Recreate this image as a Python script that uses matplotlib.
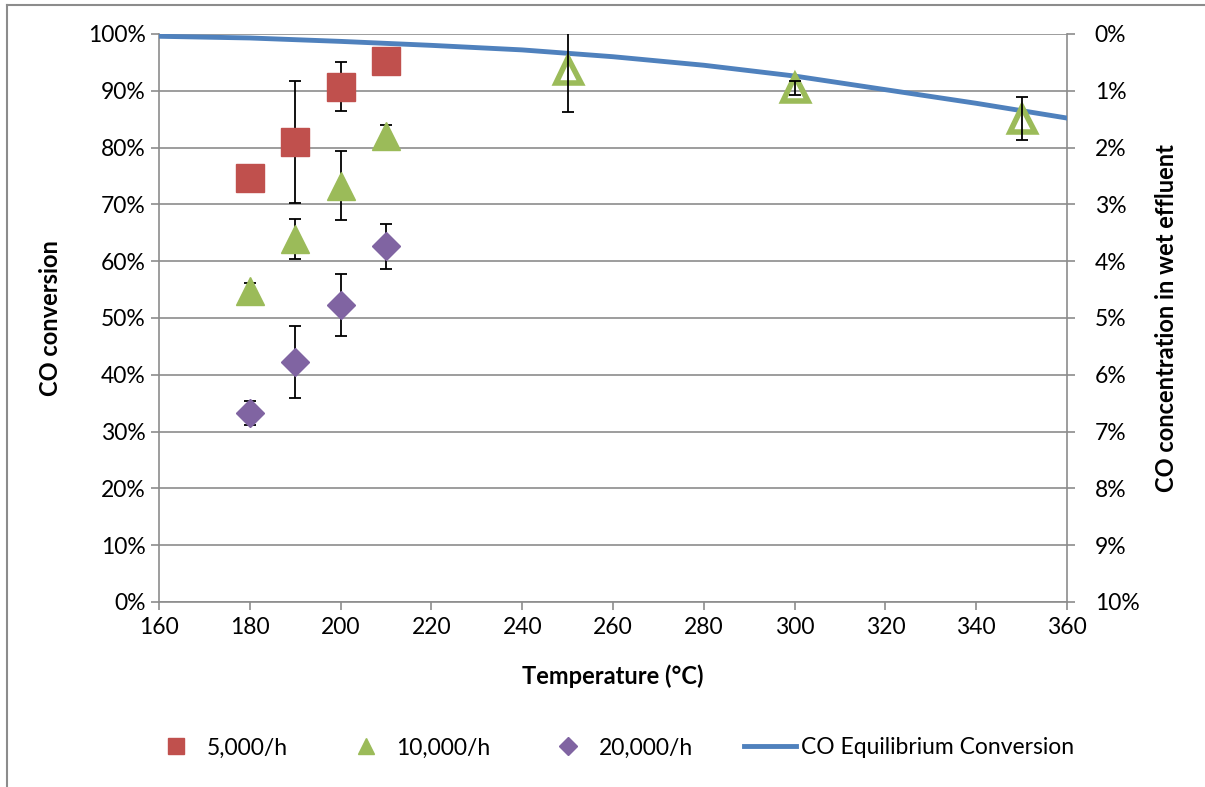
import numpy as np
import matplotlib.pyplot as plt
from matplotlib.lines import Line2D
from matplotlib.ticker import FuncFormatter, MultipleLocator

plt.rcParams['font.family'] = ['Lato', 'DejaVu Sans']

# CO conversion (%) at each space velocity
t_5k = [180, 190, 200, 210]
co_5k = [74.6, 81.0, 90.7, 95.3]
err_5k = [0.0, 10.7, 4.3, 0.0]

t_10k = [180, 190, 200, 210]
co_10k = [54.7, 63.9, 73.3, 82.1]
err_10k = [1.5, 3.5, 6.1, 1.9]

# 10,000/h runs at higher temperature (open markers)
t_10k_hi = [250, 300, 350]
co_10k_hi = [93.7, 90.5, 85.1]
err_10k_hi = [7.5, 1.2, 3.8]

t_20k = [180, 190, 200, 210]
co_20k = [33.3, 42.3, 52.3, 62.6]
err_20k = [2.1, 6.3, 5.5, 4.0]

# equilibrium conversion curve
t_eq = [160, 180, 200, 220, 240, 260, 280, 300, 320, 340, 360]
co_eq = [99.6, 99.3, 98.7, 98.0, 97.2, 96.0, 94.5, 92.6, 90.2, 87.8, 85.2]

red = '#C0504D'
green = '#9BBB59'
purple = '#8064A2'
blue = '#4F81BD'
grey = '#8c8c8c'
fs = 16.5
lfs = 17

fig = plt.figure(figsize=(12.05, 7.87), dpi=100)
ax = fig.add_axes([159 / 1205, 1 - 602 / 787, (1067 - 159) / 1205, (602 - 34) / 787])

ax.set_xlim(160, 360)
ax.set_ylim(0, 100)
ax.yaxis.set_major_locator(MultipleLocator(10))
ax.xaxis.set_major_locator(MultipleLocator(20))
ax.yaxis.set_major_formatter(FuncFormatter(lambda v, p: f'{v:.0f}%'))
ax.grid(axis='y', color=grey, lw=1.2, zorder=0)
ax.set_axisbelow(True)

for s in ['left', 'bottom', 'right']:
    ax.spines[s].set_color(grey)
    ax.spines[s].set_linewidth(1.2)
ax.spines['top'].set_visible(False)
ax.tick_params(colors=grey, labelcolor='black', labelsize=fs, length=6, width=1.2)
ax.tick_params(axis='x', pad=5)

ebkw = dict(ls='none', ecolor='black', elinewidth=1.3, capsize=4.5, capthick=1.3)

ax.plot(t_eq, co_eq, color=blue, lw=3.5, zorder=3)

ax.errorbar(t_5k, co_5k, yerr=err_5k, **ebkw, zorder=2)
ax.plot(t_5k, co_5k, 's', ms=20, color=red, zorder=4)

ax.errorbar(t_10k, co_10k, yerr=err_10k, **ebkw, zorder=2)
ax.plot(t_10k, co_10k, '^', ms=20, color=green, zorder=4)
ax.errorbar(t_10k_hi, co_10k_hi, yerr=err_10k_hi, **ebkw, zorder=5)
ax.plot(t_10k_hi, co_10k_hi, '^', ms=18, mfc='none', mec=green, mew=4, zorder=4)

ax.errorbar(t_20k, co_20k, yerr=err_20k, **ebkw, zorder=2)
ax.plot(t_20k, co_20k, 'D', ms=14, color=purple, zorder=4)

ax.set_xlabel('Temperature (°C)', fontsize=lfs, fontweight='bold', labelpad=19)
ax.set_ylabel('CO conversion', fontsize=lfs, fontweight='bold', labelpad=19)

# right axis: CO concentration in wet effluent, inverted
ax2 = ax.twinx()
ax2.set_ylim(10, 0)
ax2.yaxis.set_major_locator(MultipleLocator(1))
ax2.yaxis.set_major_formatter(FuncFormatter(lambda v, p: f'{v:.0f}%'))
for s in ax2.spines.values():
    s.set_visible(False)
ax2.tick_params(colors=grey, labelcolor='black', labelsize=fs, length=6, width=1.2, pad=14)
ax2.set_ylabel('CO concentration in wet effluent', fontsize=lfs, fontweight='bold', labelpad=11)

handles = [
    Line2D([], [], ls='none', marker='s', ms=12, color=red),
    Line2D([], [], ls='none', marker='^', ms=12, color=green),
    Line2D([], [], ls='none', marker='D', ms=9, color=purple),
    Line2D([], [], color=blue, lw=3.5),
]
labels = ['5,000/h', '10,000/h', '20,000/h', 'CO Equilibrium Conversion']
fig.legend(handles, labels, loc='center', bbox_to_anchor=(0.508, 1 - 748 / 787), ncol=4,
           frameon=False, fontsize=fs, columnspacing=2.25, handlelength=2.27, handletextpad=0.2)

# chart area border
fig.add_artist(Line2D([7.5 / 1205, 7.5 / 1205], [0, 1 - 4.5 / 787], color=grey, lw=1.5))
fig.add_artist(Line2D([7.5 / 1205, 1], [1 - 4.5 / 787, 1 - 4.5 / 787], color=grey, lw=1.5))

fig.savefig('out.png', dpi=100)
